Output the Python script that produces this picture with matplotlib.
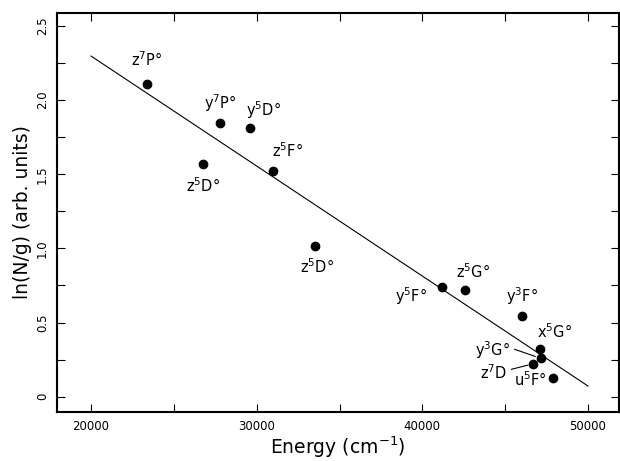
import matplotlib
matplotlib.use("Agg")
from matplotlib import pyplot as plt
from matplotlib.ticker import MultipleLocator, FuncFormatter

# level energies (cm-1) and ln(N/g)
energy = [23360, 27780, 29590, 31000, 26770, 33550, 41210, 42600, 46010, 47080, 47140, 46690, 47900]
lnNg = [2.107, 1.843, 1.810, 1.524, 1.567, 1.016, 0.738, 0.717, 0.546, 0.320, 0.259, 0.222, 0.126]
labels = ["z$^7$P°", "y$^7$P°", "y$^5$D°", "z$^5$F°", "z$^5$D°", "z$^5$D°", "y$^5$F°",
          "z$^5$G°", "y$^3$F°", "x$^5$G°", "y$^3$G°", "z$^7$D", "u$^5$F°"]
label_x = [23360, 27820, 30390, 31850, 26770, 33610, 39290, 43060, 46030, 47990, 44260, 44300, 46530]
label_y = [2.27, 1.98, 1.93, 1.657, 1.42, 0.877, 0.681, 0.843, 0.680, 0.438, 0.315, 0.165, 0.115]
leader = [False, False, False, False, False, False, False, False, False, False, True, True, False]

# fitted line
fit_x = [20000, 50000]
fit_y = [2.297, 0.072]

fig = plt.figure(figsize=(6.2, 4.61), dpi=100)
ax = fig.add_axes([57.3/620, 49.3/461, 561.7/620, 399/461])

ax.plot(fit_x, fit_y, color="black", lw=0.8)
ax.plot(energy, lnNg, "o", color="black", ms=6)

for i in range(len(labels)):
    if leader[i]:
        ax.annotate(labels[i], xy=(energy[i], lnNg[i]), xytext=(label_x[i], label_y[i]),
                    ha="center", va="center", fontsize=10.5,
                    arrowprops=dict(arrowstyle="-", lw=0.8, color="black",
                                    relpos=(1, 0.6), shrinkA=1, shrinkB=4))
    else:
        ax.text(label_x[i], label_y[i], labels[i], ha="center", va="center", fontsize=10.5)

ax.set_xlim(17967, 51870)
ax.set_ylim(-0.101, 2.589)
ax.xaxis.set_major_locator(MultipleLocator(10000))
ax.xaxis.set_minor_locator(MultipleLocator(5000))
ax.yaxis.set_major_locator(MultipleLocator(0.5))
ax.yaxis.set_minor_locator(MultipleLocator(0.25))
ax.yaxis.set_major_formatter(FuncFormatter(lambda v, p: "0" if abs(v) < 1e-9 else "%.1f" % v))
ax.tick_params(which="both", direction="in", length=6, width=0.8, top=True, right=True)
ax.tick_params(axis="x", labelsize=8.5, pad=6)
ax.tick_params(axis="y", labelsize=8.5, pad=6)
for t in ax.get_yticklabels():
    t.set_rotation(90)
    t.set_va("center")
for s in ax.spines.values():
    s.set_linewidth(1.5)

ax.set_xlabel("Energy (cm$^{-1}$)", fontsize=13.5, labelpad=1)
ax.set_ylabel("ln(N/g) (arb. units)", fontsize=13.5, labelpad=3)

fig.savefig("out.png", dpi=100)
